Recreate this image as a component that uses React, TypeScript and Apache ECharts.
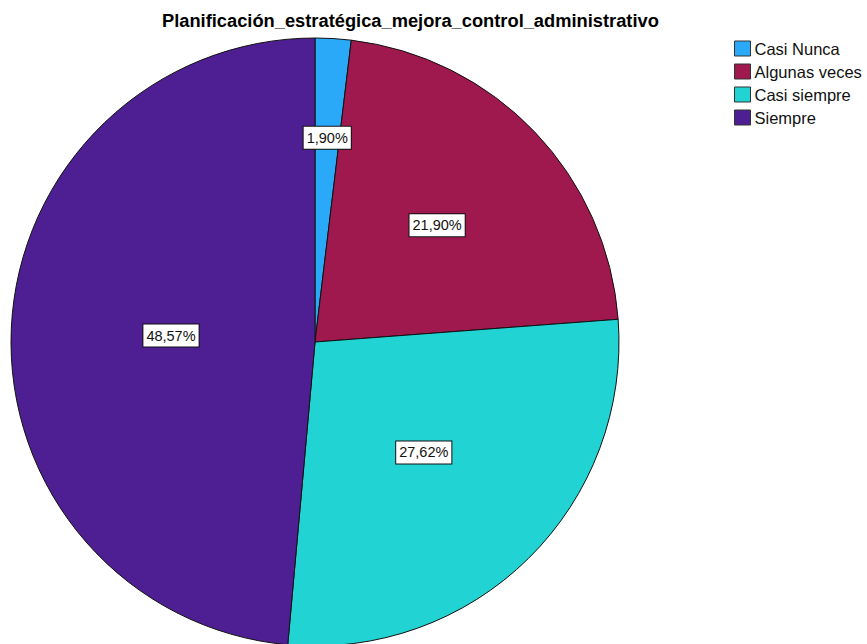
import React, { useEffect, useRef } from "react";
import * as echarts from "echarts";

const categories = ["Casi Nunca", "Algunas veces", "Casi siempre", "Siempre"];
const counts = [2, 23, 29, 51];
const colors = ["#2aa9f9", "#a0194e", "#22d3d3", "#4e1f92"];
const chartTitle = "Planificación_estratégica_mejora_control_administrativo";

// radial push applied to each inside label (1 = sector mid-radius)
const labelRadialScale = [1.32, 1.09, 1.0, 0.93];

const CX = 315;
const CY = 342;
const R = 304;

export default function App() {
  const ref = useRef<HTMLDivElement>(null);

  useEffect(() => {
    if (!ref.current) return;
    const chart = echarts.init(ref.current, undefined, { renderer: "svg" });
    const total = counts.reduce((a, b) => a + b, 0);
    const font = '"Liberation Sans", Arial, sans-serif';

    chart.setOption({
      animation: false,
      backgroundColor: "#ffffff",
      title: {
        text: chartTitle,
        left: 157,
        top: 6,
        textStyle: { fontFamily: font, fontSize: 18.3, fontWeight: "bold", color: "#000" },
      },
      legend: {
        orient: "vertical",
        left: 729,
        top: 35,
        itemWidth: 16,
        itemHeight: 15,
        itemGap: 6,
        icon: "rect",
        selectedMode: false,
        data: categories,
        itemStyle: { borderColor: "#333", borderWidth: 1 },
        textStyle: { fontFamily: font, fontSize: 16.5, color: "#111", padding: [0, 0, 0, -1] },
      },
      series: [
        {
          type: "pie",
          center: [CX, CY],
          radius: R,
          startAngle: 90,
          clockwise: true,
          silent: true,
          data: categories.map((name, i) => ({
            name,
            value: counts[i],
            itemStyle: { color: colors[i] },
          })),
          itemStyle: { borderColor: "#111", borderWidth: 1 },
          label: {
            show: true,
            position: "inside",
            formatter: (p: any) => ((p.value / total) * 100).toFixed(2).replace(".", ",") + "%",
            fontFamily: font,
            fontSize: 14.5,
            color: "#111",
            backgroundColor: "#ffffff",
            borderColor: "#111",
            borderWidth: 1,
            padding: [4, 3, 3, 3],
          },
          labelLine: { show: false },
          labelLayout: (params: any) => {
            const lr = params.labelRect;
            const lx = lr.x + lr.width / 2;
            const ly = lr.y + lr.height / 2;
            const k = labelRadialScale[params.dataIndex] ?? 1;
            return {
              x: CX + (lx - CX) * k,
              y: CY + (ly - CY) * k,
              align: "center",
              verticalAlign: "middle",
            };
          },
        },
      ],
    });

    return () => chart.dispose();
  }, []);

  return (
    <div
      ref={ref}
      style={{ position: "fixed", left: 0, top: 0, width: 867, height: 644 }}
    />
  );
}
